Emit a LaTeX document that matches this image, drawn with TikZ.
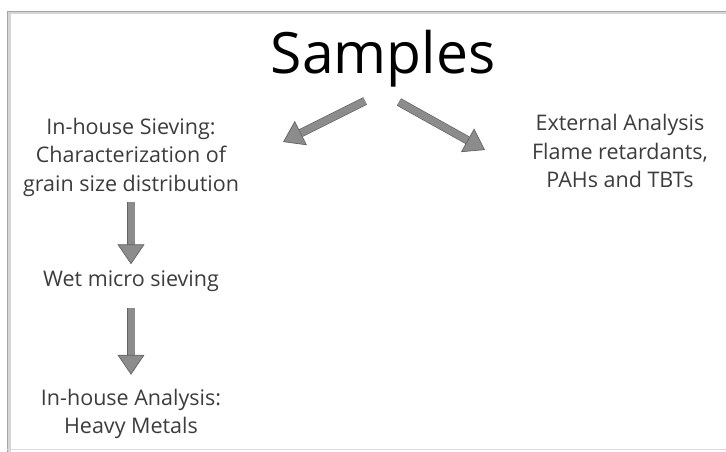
\documentclass[tikz,border=0pt]{standalone}
\usepackage{fontspec}
\setmainfont{Open Sans}
\usepackage{tikz}
\usetikzlibrary{arrows.meta, positioning, calc}
\definecolor{grisFlecha}{RGB}{140,140,140}
\definecolor{grisBorde}{RGB}{100,100,100}
\definecolor{grisTexto}{RGB}{60,60,60}
\definecolor{grisMarco}{RGB}{165,165,165}

\begin{document}
\begin{tikzpicture}[x=1pt, y=-1pt,
  paso/.style={text=grisTexto, align=center, inner sep=0pt,
    font=\fontsize{21.5}{28.5}\selectfont},
  flecha/.style={draw=grisBorde, line width=0.7pt, double=grisFlecha,
    double distance=7pt,
    -{Triangle[length=20pt, width=27pt, fill=grisFlecha, color=grisBorde, line width=0.7pt]}}]
  \useasboundingbox (0,0) rectangle (726,452);

  % Marco con sombra
  \draw[grisMarco!45, line width=3pt] (9,460) |- (740,13);
  \draw[grisMarco, line width=0.8pt] (7,460) |- (740,11);
  \draw[grisMarco!40, line width=0.8pt] (7,449) -- (740,449);

  % Titulo
  \node[font=\fontsize{57}{60}\selectfont, anchor=base] (samples) at (383,74) {Samples};

  % Rama izquierda
  \node[paso] (sieving) at (131,157) {In-house Sieving:\\ Characterization of\\ grain size distribution};
  \node[paso] (wet) at (131,281) {Wet micro sieving};
  \node[paso] (metals) at (131,414) {In-house Analysis:\\ Heavy Metals};

  % Rama derecha
  \node[paso] (external) at (620,151) {External Analysis\\ Flame retardants,\\ PAHs and TBTs};

  % Flechas
  \coordinate (izqIni) at (365,101);
  \coordinate (izqFin) at (283,142);
  \coordinate (derIni) at (399,102);
  \coordinate (derFin) at (485,150);
  \draw[flecha] (izqIni) -- (izqFin);
  \draw[flecha] (derIni) -- (derFin);
  \draw[flecha, shorten <=6pt, shorten >=6pt] (sieving) -- (wet);
  \draw[flecha, shorten <=16pt, shorten >=14pt] (wet) -- (metals);
\end{tikzpicture}
\end{document}
